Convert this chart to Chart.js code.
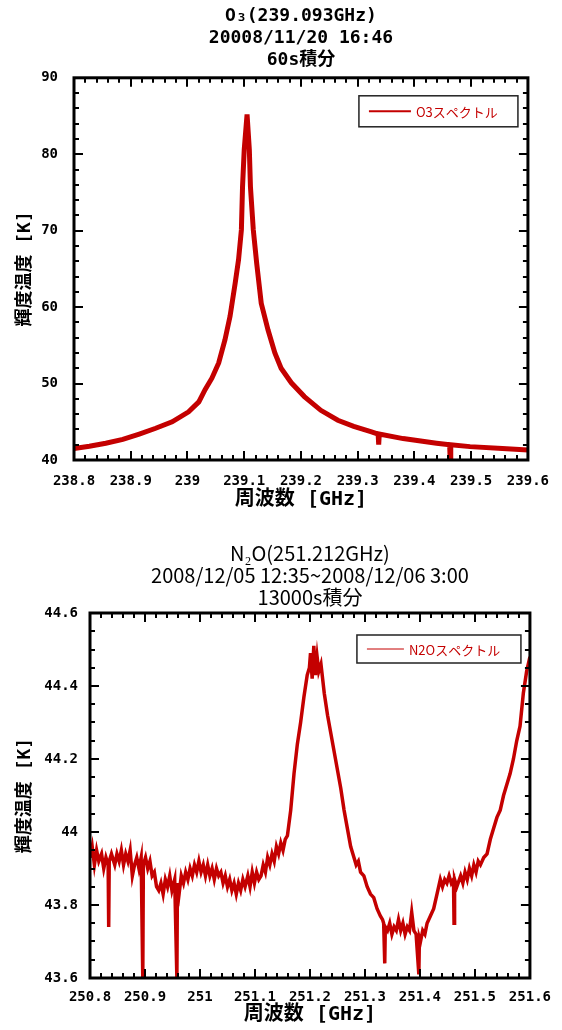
<!DOCTYPE html>
<html>
<head>
<meta charset="utf-8">
<script src="https://cdn.jsdelivr.net/npm/chart.js@4.4.1/dist/chart.umd.min.js"></script>
<style>
  html, body { margin: 0; padding: 0; background: #fff; }
  .box { position: absolute; left: 0; width: 562px; }
</style>
</head>
<body>
<div class="box" style="top:0;height:520px"><canvas id="o3Chart" width="562" height="520"></canvas></div>
<div class="box" style="top:520px;height:510px"><canvas id="n2oChart" width="562" height="510"></canvas></div>
<script>
// O3 spectrum
const o3Title = ['O\u2083(239.093GHz)', '20008/11/20 16:46', '60s積分'];
const o3Label = 'O3スペクトル';
const o3Freq = [238.800, 238.827, 238.856, 238.886, 238.915, 238.944, 238.973, 239.002, 239.020, 239.031,
  239.043, 239.055, 239.066, 239.075, 239.084, 239.090, 239.095, 239.097, 239.100, 239.105,
  239.109, 239.111, 239.116, 239.122, 239.130, 239.142, 239.154, 239.165, 239.183, 239.206,
  239.235, 239.265, 239.293, 239.323, 239.336, 239.337, 239.338, 239.380, 239.439, 239.462,
  239.463, 239.464, 239.498, 239.555, 239.600];
const o3Temp = [41.5, 41.8, 42.2, 42.7, 43.4, 44.15, 45.0, 46.3, 47.6, 49.2,
  50.7, 52.7, 55.7, 58.8, 63.1, 66.2, 70.1, 75.7, 80.6, 85.2,
  80.6, 75.7, 70.1, 65.7, 60.5, 57.0, 54.0, 52.0, 50.1, 48.3,
  46.5, 45.2, 44.4, 43.7, 43.4, 42.0, 43.4, 42.8, 42.2, 42.0,
  40.0, 42.0, 41.75, 41.5, 41.3];

// N2O spectrum
const n2oTitle = ['N\u2082O(251.212GHz)', '2008/12/05 12:35~2008/12/06 3:00', '13000s積分'];
const n2oLabel = 'N2Oスペクトル';
const n2oFreq = [250.800, 250.804, 250.808, 250.812, 250.816, 250.821, 250.825, 250.829, 250.833, 250.834,
  250.835, 250.839, 250.845, 250.849, 250.853, 250.857, 250.861, 250.865, 250.869, 250.873,
  250.877, 250.881, 250.885, 250.889, 250.893, 250.896, 250.897, 250.901, 250.905, 250.909,
  250.913, 250.917, 250.921, 250.925, 250.929, 250.933, 250.937, 250.941, 250.945, 250.949,
  250.954, 250.958, 250.959, 250.962, 250.966, 250.970, 250.974, 250.978, 250.982, 250.986,
  250.990, 250.994, 250.998, 251.002, 251.006, 251.010, 251.014, 251.018, 251.022, 251.026,
  251.030, 251.034, 251.038, 251.042, 251.046, 251.050, 251.054, 251.058, 251.062, 251.066,
  251.070, 251.074, 251.078, 251.082, 251.087, 251.091, 251.095, 251.099, 251.103, 251.107,
  251.111, 251.115, 251.119, 251.123, 251.127, 251.131, 251.135, 251.139, 251.143, 251.147,
  251.151, 251.155, 251.159, 251.165, 251.171, 251.177, 251.183, 251.189, 251.195, 251.199,
  251.201, 251.204, 251.207, 251.210, 251.213, 251.216, 251.220, 251.226, 251.232, 251.238,
  251.244, 251.250, 251.256, 251.262, 251.268, 251.274, 251.280, 251.284, 251.288, 251.292,
  251.298, 251.304, 251.310, 251.316, 251.322, 251.328, 251.332, 251.334, 251.336, 251.337,
  251.341, 251.345, 251.349, 251.353, 251.357, 251.361, 251.365, 251.369, 251.373, 251.377,
  251.381, 251.385, 251.389, 251.393, 251.398, 251.399, 251.401, 251.405, 251.409, 251.413,
  251.419, 251.425, 251.431, 251.437, 251.441, 251.445, 251.449, 251.453, 251.457, 251.461,
  251.462, 251.463, 251.467, 251.474, 251.478, 251.482, 251.486, 251.490, 251.494, 251.498,
  251.502, 251.506, 251.510, 251.516, 251.522, 251.528, 251.534, 251.540, 251.546, 251.552,
  251.558, 251.564, 251.570, 251.576, 251.582, 251.588, 251.594, 251.600];
const n2oTemp = [43.93, 43.96, 43.91, 43.95, 43.92, 43.94, 43.90, 43.93, 43.91, 43.74,
  43.92, 43.94, 43.91, 43.94, 43.92, 43.95, 43.91, 43.94, 43.92, 43.95,
  43.88, 43.91, 43.93, 43.90, 43.93, 43.60, 43.91, 43.93, 43.90, 43.92,
  43.88, 43.89, 43.85, 43.84, 43.86, 43.83, 43.87, 43.85, 43.88, 43.84,
  43.87, 43.60, 43.86, 43.83, 43.88, 43.86, 43.89, 43.87, 43.90, 43.88,
  43.91, 43.89, 43.92, 43.89, 43.91, 43.88, 43.91, 43.88, 43.90, 43.87,
  43.90, 43.88, 43.89, 43.86, 43.88, 43.85, 43.87, 43.84, 43.86, 43.83,
  43.86, 43.84, 43.87, 43.85, 43.88, 43.85, 43.89, 43.86, 43.89, 43.87,
  43.88, 43.91, 43.89, 43.93, 43.91, 43.94, 43.92, 43.96, 43.94, 43.97,
  43.95, 43.98, 43.99, 44.06, 44.16, 44.24, 44.30, 44.37, 44.43, 44.45,
  44.49, 44.42, 44.51, 44.43, 44.48, 44.44, 44.46, 44.38, 44.32, 44.27,
  44.22, 44.17, 44.12, 44.06, 44.01, 43.96, 43.93, 43.91, 43.92, 43.89,
  43.88, 43.85, 43.83, 43.82, 43.79, 43.77, 43.76, 43.75, 43.64, 43.74,
  43.73, 43.75, 43.72, 43.74, 43.73, 43.76, 43.73, 43.75, 43.72, 43.74,
  43.73, 43.78, 43.73, 43.72, 43.61, 43.71, 43.70, 43.73, 43.72, 43.75,
  43.77, 43.79, 43.83, 43.87, 43.85, 43.87, 43.86, 43.88, 43.86, 43.87,
  43.75, 43.87, 43.85, 43.88, 43.86, 43.89, 43.87, 43.90, 43.88, 43.91,
  43.89, 43.92, 43.91, 43.93, 43.94, 43.98, 44.01, 44.04, 44.06, 44.10,
  44.13, 44.16, 44.20, 44.25, 44.29, 44.38, 44.44, 44.48];

const lineColor = '#c40000';
const tickFont = { family: '"DejaVu Sans Mono", monospace', size: 14, weight: 'bold' };
const axisTitleFont = { family: '"DejaVu Sans Mono", "Noto Sans CJK JP"', size: 20, weight: 'bold' };

// inward major/minor ticks on all four sides plus a heavy frame
const frameTicks = {
  id: 'frameTicks',
  afterDatasetsDraw(chart, args, opts) {
    const { ctx, chartArea: a, scales: { x, y } } = chart;
    ctx.save();
    ctx.strokeStyle = '#000';
    ctx.lineWidth = 2;
    const drawTicks = (scale, minor, every, horiz) => {
      const n = Math.round((scale.max - scale.min) / minor);
      for (let i = 0; i <= n; i++) {
        const p = Math.round(scale.getPixelForValue(scale.min + i * minor));
        const len = i % every === 0 ? opts.major : opts.minor;
        ctx.beginPath();
        if (horiz) {
          ctx.moveTo(p, a.bottom); ctx.lineTo(p, a.bottom - len);
          ctx.moveTo(p, a.top); ctx.lineTo(p, a.top + len);
        } else {
          ctx.moveTo(a.left, p); ctx.lineTo(a.left + len, p);
          ctx.moveTo(a.right, p); ctx.lineTo(a.right - len, p);
        }
        ctx.stroke();
      }
    };
    drawTicks(x, opts.xMinor, opts.xEvery, true);
    drawTicks(y, opts.yMinor, opts.yEvery, false);
    ctx.lineWidth = 3;
    ctx.strokeRect(a.left, a.top, a.right - a.left, a.bottom - a.top);
    ctx.restore();
  }
};

// boxed legend inside the plot, top right
const boxLegend = {
  id: 'boxLegend',
  afterDraw(chart, args, opts) {
    const { ctx, chartArea: a } = chart;
    const ds = chart.data.datasets[0];
    const x0 = a.right - opts.right - opts.width;
    const y0 = a.top + opts.top;
    const cy = y0 + opts.height / 2;
    ctx.save();
    ctx.fillStyle = '#fff';
    ctx.fillRect(x0, y0, opts.width, opts.height);
    ctx.strokeStyle = '#222';
    ctx.lineWidth = 1.5;
    ctx.strokeRect(x0, y0, opts.width, opts.height);
    ctx.strokeStyle = ds.borderColor;
    ctx.lineWidth = opts.lineWidth;
    ctx.beginPath();
    ctx.moveTo(x0 + 10, cy);
    ctx.lineTo(x0 + 10 + opts.lineLen, cy);
    ctx.stroke();
    ctx.fillStyle = ds.borderColor;
    ctx.font = '13px "Noto Sans CJK JP", sans-serif';
    ctx.textBaseline = 'middle';
    ctx.fillText(ds.label, x0 + 15 + opts.lineLen, cy + 1);
    ctx.restore();
  }
};

const fmt = v => String(+v.toFixed(1));

function makeChart(id, cfg) {
  return new Chart(document.getElementById(id), {
    type: 'scatter',
    data: {
      datasets: [{
        label: cfg.label,
        data: cfg.freq.map((f, i) => ({ x: f, y: cfg.temp[i] })),
        showLine: true,
        borderColor: lineColor,
        backgroundColor: lineColor,
        borderWidth: cfg.lineWidth,
        pointRadius: 0,
        tension: 0
      }]
    },
    options: {
      responsive: false,
      animation: false,
      layout: { padding: { left: 0, right: cfg.padRight, top: 0, bottom: 0 } },
      plugins: {
        legend: { display: false },
        tooltip: { enabled: false },
        title: {
          display: true,
          text: cfg.title,
          fullSize: false,
          color: '#000',
          font: cfg.titleFont,
          padding: cfg.titlePad
        },
        frameTicks: cfg.ticks,
        boxLegend: cfg.legend
      },
      scales: {
        x: {
          type: 'linear',
          min: cfg.xMin, max: cfg.xMax,
          grid: { display: false, drawTicks: false },
          border: { display: false },
          ticks: { stepSize: cfg.xStep, color: '#000', font: tickFont, padding: cfg.xPad,
                   maxRotation: 0, autoSkip: false, callback: fmt },
          title: { display: true, text: '周波数 [GHz]', color: '#000', font: axisTitleFont,
                   padding: { top: 0, bottom: cfg.xTitlePad } },
          afterFit: s => { s.height = cfg.xHeight; }
        },
        y: {
          type: 'linear',
          min: cfg.yMin, max: cfg.yMax,
          grid: { display: false, drawTicks: false },
          border: { display: false },
          ticks: { stepSize: cfg.yStep, color: '#000', font: tickFont, padding: cfg.yPad,
                   autoSkip: false, callback: fmt },
          title: { display: true, text: '輝度温度 [K]', color: '#000',
                   font: { family: '"DejaVu Sans Mono", "Noto Sans CJK JP"', size: 18, weight: 'bold' },
                   padding: { top: 15, bottom: 0 } },
          afterFit: s => { s.width = cfg.yWidth; }
        }
      }
    },
    plugins: [frameTicks, boxLegend]
  });
}

makeChart('o3Chart', {
  label: o3Label, freq: o3Freq, temp: o3Temp, title: o3Title, lineWidth: 5,
  titleFont: { family: '"DejaVu Sans Mono", "Noto Sans CJK JP"', size: 18, weight: 'bold', lineHeight: 1.2 },
  titlePad: { top: 6, bottom: 7 },
  padRight: 30,
  xMin: 238.8, xMax: 239.6, xStep: 0.1, xPad: 13, xHeight: 60, xTitlePad: 8,
  yMin: 40, yMax: 90, yStep: 10, yPad: 16, yWidth: 74,
  ticks: { xMinor: 0.02, xEvery: 5, yMinor: 2, yEvery: 5, major: 9, minor: 5 },
  legend: { right: 10, top: 18, width: 159, height: 31, lineLen: 42, lineWidth: 2 }
});

makeChart('n2oChart', {
  label: n2oLabel, freq: n2oFreq, temp: n2oTemp, title: n2oTitle, lineWidth: 3.5,
  titleFont: { family: '"Liberation Sans Narrow", "Noto Sans CJK JP"', size: 20, weight: 'normal', lineHeight: 1.1 },
  titlePad: { top: 22, bottom: 5 },
  padRight: 31,
  xMin: 250.8, xMax: 251.6, xStep: 0.1, xPad: 11, xHeight: 52, xTitlePad: 3,
  yMin: 43.6, yMax: 44.6, yStep: 0.2, yPad: 12, yWidth: 90,
  ticks: { xMinor: 0.02, xEvery: 5, yMinor: 0.05, yEvery: 4, major: 9, minor: 5 },
  legend: { right: 9, top: 22, width: 164, height: 28, lineLen: 37, lineWidth: 1 }
});
</script>
</body>
</html>
